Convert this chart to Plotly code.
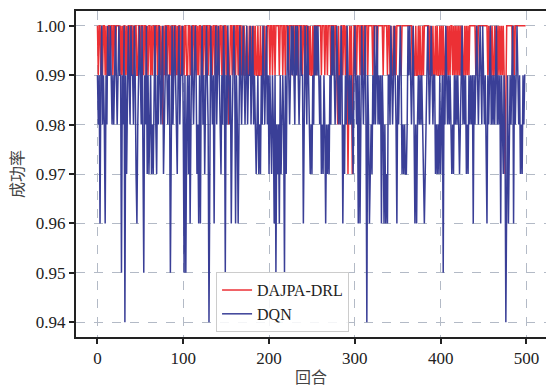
import plotly.graph_objects as go

# Success rate (percent) per episode
drl_pct = [
    100, 99, 100, 100, 99, 100, 99, 100, 100, 99,
    100, 99, 99, 100, 100, 99, 100, 100, 99, 100,
    100, 99, 100, 100, 100, 100, 99, 100, 99, 100,
    99, 100, 100, 99, 100, 99, 100, 100, 99, 100,
    100, 99, 100, 99, 100, 100, 99, 99, 100, 100,
    99, 100, 100, 100, 99, 100, 100, 99, 100, 99,
    100, 100, 99, 100, 99, 100, 100, 99, 100, 100,
    99, 100, 100, 99, 100, 99, 98, 100, 99, 100,
    100, 99, 100, 100, 99, 100, 99, 100, 100, 99,
    100, 100, 99, 100, 99, 100, 100, 99, 100, 99,
    100, 99, 100, 100, 99, 99, 100, 100, 99, 100,
    99, 100, 100, 99, 100, 100, 99, 100, 99, 100,
    100, 99, 100, 99, 100, 100, 99, 100, 100, 99,
    100, 100, 99, 100, 99, 100, 100, 99, 100, 100,
    99, 100, 99, 100, 100, 99, 100, 99, 100, 100,
    99, 100, 99, 98, 99, 100, 100, 99, 100, 100,
    100, 99, 100, 100, 99, 100, 100, 100, 99, 100,
    99, 100, 99, 99, 100, 99, 99, 100, 99, 100,
    99, 99, 100, 99, 100, 99, 99, 100, 99, 99,
    100, 99, 99, 100, 99, 100, 99, 99, 100, 100,
    100, 99, 100, 100, 99, 100, 100, 99, 100, 100,
    100, 100, 99, 100, 100, 100, 99, 100, 100, 99,
    100, 100, 100, 99, 100, 100, 100, 99, 100, 100,
    99, 100, 100, 100, 99, 100, 100, 100, 100, 99,
    100, 100, 99, 100, 100, 99, 100, 99, 100, 99,
    99, 100, 99, 100, 100, 99, 100, 100, 100, 100,
    100, 99, 100, 100, 100, 99, 100, 100, 99, 100,
    100, 100, 99, 100, 100, 100, 99, 100, 100, 99,
    98, 100, 99, 98, 100, 100, 99, 100, 100, 99,
    100, 99, 97, 99, 100, 99, 100, 97, 99, 100,
    100, 100, 99, 100, 100, 100, 99, 100, 100, 100,
    99, 100, 100, 100, 100, 99, 100, 100, 100, 100,
    100, 99, 100, 100, 100, 100, 99, 100, 100, 100,
    100, 100, 100, 99, 100, 100, 100, 100, 99, 100,
    100, 99, 100, 99, 99, 100, 99, 100, 99, 100,
    100, 100, 100, 100, 99, 100, 100, 100, 100, 100,
    100, 100, 100, 100, 100, 100, 100, 99, 100, 99,
    99, 100, 99, 99, 100, 99, 100, 99, 99, 100,
    99, 100, 100, 100, 100, 100, 100, 99, 100, 99,
    99, 100, 99, 99, 100, 99, 100, 99, 99, 100,
    99, 100, 99, 100, 99, 99, 100, 99, 100, 99,
    100, 99, 100, 100, 99, 100, 99, 100, 99, 100,
    99, 100, 99, 100, 99, 100, 99, 99, 100, 99,
    100, 99, 100, 99, 100, 100, 100, 100, 100, 100,
    100, 99, 100, 99, 100, 100, 100, 100, 100, 100,
    100, 100, 100, 100, 100, 99, 100, 99, 100, 99,
    100, 99, 99, 100, 99, 100, 99, 100, 99, 100,
    99, 100, 99, 100, 99, 97, 99, 100, 100, 100,
    100, 100, 100, 100, 99, 100, 99, 100, 100, 100,
    100, 100, 100, 100, 100, 100, 100, 100, 100, 100,
]

dqn_pct = [
    99, 98, 99, 96, 99, 100, 98, 99, 98, 96,
    99, 98, 100, 99, 99, 100, 99, 98, 99, 98,
    99, 100, 99, 98, 99, 100, 99, 99, 95, 99,
    98, 100, 94, 99, 97, 99, 100, 99, 98, 100,
    99, 99, 98, 100, 99, 97, 96, 98, 99, 100,
    99, 98, 100, 97, 95, 99, 98, 100, 97, 99,
    97, 98, 99, 97, 98, 97, 99, 100, 98, 97,
    99, 98, 100, 99, 98, 99, 100, 97, 98, 99,
    100, 99, 98, 99, 99, 95, 99, 100, 98, 99,
    100, 99, 98, 97, 99, 100, 98, 99, 99, 100,
    98, 95, 99, 95, 98, 99, 97, 99, 96, 99,
    100, 99, 98, 99, 100, 99, 97, 98, 96, 99,
    96, 99, 100, 98, 99, 97, 99, 100, 99, 98,
    94, 99, 100, 99, 98, 99, 96, 99, 100, 98,
    99, 100, 99, 98, 97, 99, 98, 100, 99, 95,
    99, 98, 100, 99, 98, 99, 96, 98, 99, 100,
    99, 96, 99, 98, 96, 99, 100, 99, 98, 99,
    100, 99, 98, 99, 100, 98, 99, 99, 100, 98,
    99, 100, 98, 99, 98, 97, 98, 99, 97, 98,
    97, 99, 98, 100, 99, 98, 99, 100, 98, 99,
    97, 99, 98, 97, 99, 98, 96, 99, 95, 98,
    97, 98, 96, 99, 97, 98, 99, 98, 95, 99,
    97, 99, 100, 99, 98, 99, 100, 99, 100, 99,
    98, 100, 99, 100, 99, 98, 99, 100, 99, 99,
    96, 99, 100, 99, 98, 100, 99, 98, 97, 98,
    97, 99, 98, 100, 99, 100, 99, 100, 99, 98,
    99, 97, 98, 97, 99, 98, 96, 98, 97, 98,
    97, 99, 98, 100, 99, 100, 99, 98, 99, 100,
    99, 98, 99, 98, 100, 99, 96, 98, 97, 99,
    98, 100, 99, 98, 99, 98, 99, 98, 97, 99,
    100, 99, 98, 99, 96, 99, 96, 98, 100, 99,
    98, 99, 100, 98, 94, 99, 98, 96, 97, 98,
    97, 99, 98, 100, 98, 99, 100, 98, 99, 98,
    99, 96, 99, 98, 96, 98, 96, 97, 96, 99,
    99, 98, 100, 99, 98, 99, 100, 99, 98, 96,
    99, 98, 99, 100, 99, 97, 98, 97, 98, 97,
    97, 98, 100, 99, 100, 99, 98, 99, 100, 98,
    96, 98, 96, 98, 99, 98, 99, 98, 99, 98,
    97, 96, 97, 98, 99, 100, 99, 98, 99, 100,
    99, 98, 99, 99, 97, 98, 97, 98, 97, 99,
    97, 98, 99, 95, 99, 98, 100, 99, 98, 99,
    98, 99, 98, 97, 98, 97, 99, 98, 99, 98,
    99, 98, 97, 98, 99, 100, 98, 99, 98, 99,
    97, 98, 97, 99, 98, 99, 98, 99, 96, 99,
    98, 99, 100, 99, 98, 99, 100, 99, 98, 100,
    99, 98, 99, 97, 96, 99, 98, 99, 100, 98,
    99, 98, 99, 98, 99, 100, 98, 99, 98, 99,
    96, 99, 98, 97, 99, 98, 94, 98, 99, 96,
    98, 99, 98, 99, 100, 96, 99, 98, 99, 100,
    99, 98, 99, 97, 98, 97, 99, 98, 99, 99,
]

episodes = list(range(len(drl_pct)))
drl = [v / 100 for v in drl_pct]
dqn = [v / 100 for v in dqn_pct]

y_ticks = [0.94, 0.95, 0.96, 0.97, 0.98, 0.99, 1.00]
x_ticks = [0, 100, 200, 300, 400, 500]

serif = "Liberation Serif, Times New Roman, serif"
cjk = "Noto Sans CJK SC, sans-serif"

fig = go.Figure()
fig.add_trace(go.Scatter(x=episodes, y=drl, mode="lines", name="DAJPA-DRL",
                         line=dict(color="#ec3035", width=1.5)))
fig.add_trace(go.Scatter(x=episodes, y=dqn, mode="lines", name="DQN",
                         line=dict(color="#3a3f97", width=1.5)))

grid = dict(showgrid=True, gridcolor="#b3bac6", gridwidth=1, griddash="dash")

fig.update_layout(
    width=546, height=388,
    margin=dict(l=76, r=0, t=11, b=51),
    plot_bgcolor="white", paper_bgcolor="white",
    font=dict(family=serif, size=17, color="#222"),
    xaxis=dict(range=[-25, 522.8], tickvals=x_ticks, ticks="outside", ticklen=5,
               tickwidth=1.5, tickcolor="#222", showline=True, linecolor="#222",
               linewidth=2, mirror=True, zeroline=False,
               title=dict(text="回合", font=dict(family=cjk, size=16, color="#444"),
                          standoff=6),
               **grid),
    yaxis=dict(range=[0.937, 1.003], tickvals=y_ticks, tickformat=".2f",
               ticks="outside", ticklen=5, tickwidth=1.5, tickcolor="#222",
               showline=True, linecolor="#222", linewidth=2, mirror=False,
               zeroline=False,
               title=dict(text="成功率", font=dict(family=cjk, size=16, color="#444"),
                          standoff=8),
               **grid),
    legend=dict(x=0.298, y=0.015, xanchor="left", yanchor="bottom",
                bgcolor="rgba(255,255,255,0.85)", bordercolor="#cccccc",
                borderwidth=1, font=dict(family=serif, size=16),
                tracegroupgap=0, itemwidth=30),
    showlegend=True,
)

fig.write_html("out.html")
